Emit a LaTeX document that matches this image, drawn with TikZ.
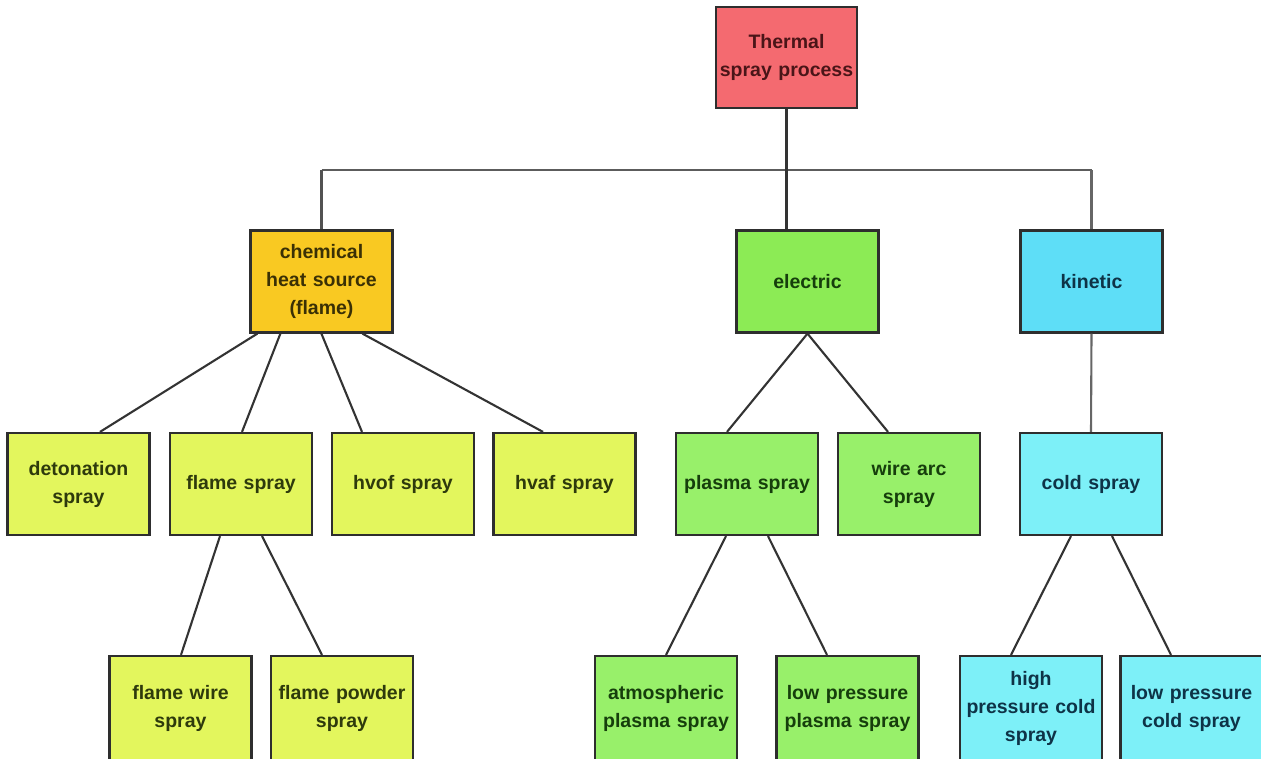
\documentclass[tikz,border=0pt]{standalone}
\usepackage{fontspec}
\setmainfont{Liberation Sans}[WordSpace={0.85,0.5,0.3}]
\usetikzlibrary{calc}
\definecolor{cRoot}{HTML}{F46A70}
\definecolor{cChem}{HTML}{F9C922}
\definecolor{cElec}{HTML}{8CEB55}
\definecolor{cKin}{HTML}{5EDEF7}
\definecolor{cLime}{HTML}{E3F65D}
\definecolor{cGreen}{HTML}{98F06A}
\definecolor{cCyan}{HTML}{7DF0F8}
\definecolor{tRoot}{HTML}{4A1518}
\definecolor{tChem}{HTML}{3A3005}
\definecolor{tLime}{HTML}{2E3A0C}
\definecolor{tGreen}{HTML}{163E0C}
\definecolor{tCyan}{HTML}{0E3347}
\definecolor{edge}{HTML}{2E2E2E}
\definecolor{wire}{HTML}{333333}
\begin{document}
\begin{tikzpicture}[x=1pt,y=-1pt,
  box/.style={draw=edge, line width=2.2pt, rectangle, minimum width=142pt, minimum height=102pt,
    inner sep=0pt, align=center, text width=140pt,
    font=\fontsize{19.5}{28}\selectfont\bfseries},
  tallbox/.style={box, minimum height=104pt},
  conn/.style={draw=wire, line width=2.1pt}]
\useasboundingbox (0,0) rectangle (1261,758);
\fill[white] (0,0) rectangle (1261,758);
\begin{scope}
\clip (0,0) rectangle (1261,758);
% level 0
\node[box, fill=cRoot, text=tRoot, minimum width=141pt, minimum height=101pt] (root) at (786.5,57.5) {Thermal\\spray process};
% level 1
\node[box, fill=cChem, text=tChem] (chem) at (321.5,281.5) {chemical\\heat source\\(flame)};
\node[box, fill=cElec, text=tGreen] (elec) at (807.5,281.5) {electric};
\node[box, fill=cKin, text=tCyan] (kin) at (1091.5,281.5) {kinetic};
% level 2
\node[box, fill=cLime, text=tLime] (det) at (78.5,484) {detonation\\spray};
\node[box, fill=cLime, text=tLime] (flame) at (241,484) {flame spray};
\node[box, fill=cLime, text=tLime] (hvof) at (403,484) {hvof spray};
\node[box, fill=cLime, text=tLime] (hvaf) at (564.5,484) {hvaf spray};
\node[box, fill=cGreen, text=tGreen] (plasma) at (747,484) {plasma spray};
\node[box, fill=cGreen, text=tGreen] (arc) at (909,484) {wire arc\\spray};
\node[box, fill=cCyan, text=tCyan] (cold) at (1091,484) {cold spray};
% level 3
\node[tallbox, fill=cLime, text=tLime] (fwire) at (180.5,708) {flame wire\\spray};
\node[tallbox, fill=cLime, text=tLime] (fpow) at (342,708) {flame powder\\spray};
\node[tallbox, fill=cGreen, text=tGreen] (atm) at (666,708) {atmospheric\\plasma spray};
\node[tallbox, fill=cGreen, text=tGreen] (lpp) at (847.5,708) {low pressure\\plasma spray};
\node[tallbox, fill=cCyan, text=tCyan] (hpc) at (1031,708) {high\\pressure cold\\spray};
\node[tallbox, fill=cCyan, text=tCyan] (lpc) at (1191.5,708) {low pressure\\cold spray};
\end{scope}
% bus
\coordinate (busL) at (321.5,170);
\coordinate (busM) at (786.5,170);
\coordinate (busR) at (1091.5,170);
\draw[conn, draw=wire!80] (busL) -- (busR);
\draw[conn] (root.south) -- (busM);
\draw[conn, draw=wire!85] (busL) -- (chem.north);
\draw[conn] (busM) -- (busM |- elec.north);
\draw[conn, draw=wire!75] (busR) -- (kin.north);
% chemical children
\draw[conn] ($(chem.south west)+(8,0)$) -- ($(det.north)+(21.5,0)$);
\draw[conn] ($(chem.south west)+(31,0)$) -- ($(flame.north)+(1,0)$);
\draw[conn] ($(chem.south west)+(72,0)$) -- ($(hvof.north)+(-41,0)$);
\draw[conn] ($(chem.south west)+(113,0)$) -- ($(hvaf.north)+(-21.5,0)$);
% electric children
\draw[conn] (elec.south) -- ($(plasma.north)+(-20,0)$);
\draw[conn] (elec.south) -- ($(arc.north)+(-21,0)$);
% kinetic child
\draw[conn, draw=wire!75] (kin.south) -- (cold.north);
% flame children
\draw[conn] ($(flame.south)+(-21,0)$) -- ($(fwire.north)+(0.5,0)$);
\draw[conn] ($(flame.south)+(21,0)$) -- ($(fpow.north)+(-20,0)$);
% plasma children
\draw[conn] ($(plasma.south)+(-21,0)$) -- ($(atm.north)+(0,0)$);
\draw[conn] ($(plasma.south)+(21,0)$) -- ($(lpp.north)+(-20.5,0)$);
% cold children
\draw[conn] ($(cold.south)+(-20,0)$) -- ($(hpc.north)+(-20,0)$);
\draw[conn] ($(cold.south)+(21,0)$) -- ($(lpc.north)+(-20.5,0)$);
\end{tikzpicture}
\end{document}
